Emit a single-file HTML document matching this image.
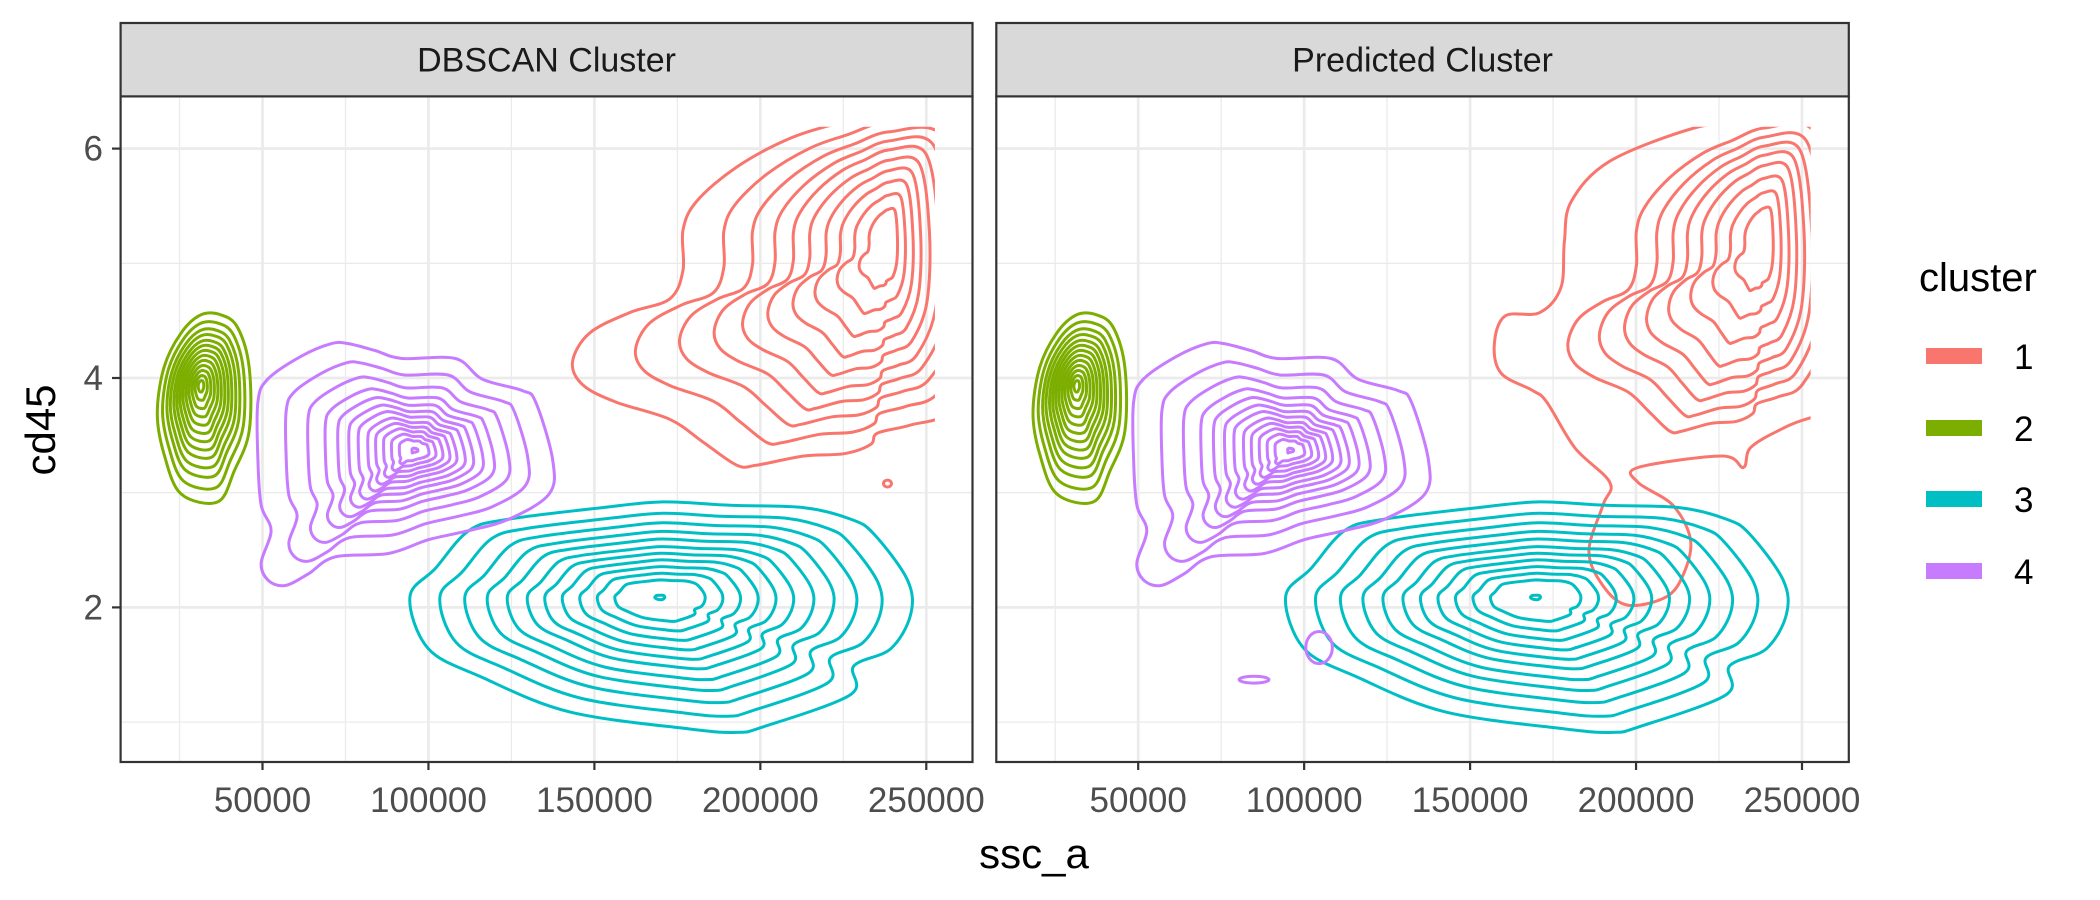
<!DOCTYPE html>
<html><head><meta charset="utf-8"><style>
body{margin:0;background:#fff;}
svg{display:block;font-family:"Liberation Sans",Arial,sans-serif;}
</style></head><body>
<svg id="chart" width="2100" height="900" viewBox="0 0 2100 900">
</svg>
<script>
// ---- data ----
const xTicks = [50000, 100000, 150000, 200000, 250000];
const xTickLabels = ["50000", "100000", "150000", "200000", "250000"];
const yTicks = [2, 4, 6];
const yTickLabels = ["2", "4", "6"];
const xMinor = [25000, 75000, 125000, 175000, 225000];
const yMinor = [1, 3, 5];
const panelTitles = ["DBSCAN Cluster", "Predicted Cluster"];
const clusterNames = ["1", "2", "3", "4"];
const clusterColors = ["#F8766D", "#7CAE00", "#00BFC4", "#C77CFF"];
// outer contours (x in thousands, y = cd45)
const redX = [209.0,192.9,180.8,176.7,176.7,172.7,160.6,148.5,143.4,146.5,156.5,172.7,182.8,192.9,198.9,213.1,225.2,233.2,235.3,245.3,257.4,269.6,271.6,263.5,239.3,223.1];
const redY = [6.09,5.84,5.54,5.29,4.94,4.69,4.57,4.39,4.14,3.94,3.79,3.64,3.44,3.24,3.24,3.32,3.34,3.42,3.52,3.59,3.72,4.29,5.29,6.30,6.35,6.22];
const redCenter = [238.3, 5.22];
const redLevels = [1,0.8,0.66,0.55,0.46,0.38,0.3,0.23,0.16,0.09];
const redLevelsY = [1,0.9,0.82,0.75,0.68,0.6,0.52,0.43,0.33,0.22];
const greenX = [31.4,25.4,20.3,18.3,20.3,25.4,36.5,41.5,46.0,46.0,42.5,37.5];
const greenY = [4.55,4.39,4.09,3.69,3.34,2.99,2.92,3.19,3.54,4.09,4.44,4.55];
const greenCenter = [31.4, 3.94];
const greenLevels = [1,0.88,0.78,0.7,0.62,0.55,0.48,0.41,0.34,0.27,0.2,0.13,0.06];
const tealX = [94.4,100,116.2,142.4,178.7,192.9,201,227.2,228.2,239.3,245.3,244.3,234.2,227.2,213,190.9,170.7,152.5,124.3,112.2,102.1];
const tealY = [2.09,1.64,1.39,1.09,0.94,0.91,0.96,1.24,1.49,1.64,1.94,2.24,2.64,2.77,2.87,2.89,2.92,2.87,2.77,2.67,2.34];
const tealCenter = [169.7, 2.09];
const tealLevels = [1,0.88,0.78,0.69,0.61,0.53,0.46,0.39,0.32,0.25,0.18,0.02];
const purpleX = [70.8,61.7,51.6,48.6,48.6,49.6,52.6,49.6,51.6,56.7,63.7,71.8,87.9,100.0,112.2,124.3,136.4,137.4,132.3,128.3,116.2,108.1,92.0,83.9,75.8];
const purpleY = [4.30,4.19,3.99,3.79,3.29,2.89,2.67,2.39,2.24,2.19,2.29,2.44,2.47,2.59,2.67,2.77,2.99,3.29,3.79,3.89,3.99,4.17,4.17,4.24,4.30];
const purpleCenter = [96.0, 3.37];
const purpleLevels = [1,0.82,0.68,0.57,0.49,0.42,0.36,0.3,0.25,0.2,0.15,0.1,0.02];
const red2X = [217.5,192.1,180.5,178.4,177.4,171.0,160.5,157.3,159.4,168.9,173.1,181.6,192.1,190.0,185.8,190.0,197.4,209.0,214.3,216.4,211.1,200.6,200.6,225.9,232.3,234.4,242.8,252.3,272.4,272.4,249.2,232.3];
const red2Y = [6.18,5.89,5.54,5.19,4.79,4.57,4.54,4.29,4.04,3.89,3.79,3.39,3.09,2.89,2.49,2.19,2.02,2.09,2.29,2.59,2.89,3.09,3.22,3.32,3.22,3.39,3.54,3.65,3.79,6.30,6.30,6.22];
const red2Levels = [0.62,0.52,0.44,0.37,0.3,0.23,0.16,0.09];
const red2LevelsY = [0.85,0.78,0.71,0.64,0.56,0.46,0.35,0.23];
const blobsPanel2 = [[104.5,1.65,4,0.14],[84.9,1.37,4.5,0.03]];
const redBlob = [238.3, 3.08, 1.2, 0.03];

// ---- layout ----
const panels = [{x0:120.6,x1:972.5},{x0:996.3,x1:1848.8}];
const plotTop = 96.4, plotBottom = 762, stripTop = 23;
const xPerK = 165.95/50, x50 = [262.5, 1138.2];
const yPerU = 114.7, y2 = 607.4;
const NS = "http://www.w3.org/2000/svg";
const svg = document.getElementById('chart');
function el(tag, attrs, parent){const e=document.createElementNS(NS,tag);for(const k in attrs)e.setAttribute(k,attrs[k]);(parent||svg).appendChild(e);return e;}
function sx(p,k){return x50[p]+(k-50)*xPerK;}
function sy(v){return y2-(v-2)*yPerU;}
function smoothClosed(P){
  const n=P.length;let d='M'+P[0][0].toFixed(1)+','+P[0][1].toFixed(1);
  for(let i=0;i<n;i++){
    const p0=P[(i-1+n)%n],p1=P[i],p2=P[(i+1)%n],p3=P[(i+2)%n];
    const c1=[p1[0]+(p2[0]-p0[0])/6,p1[1]+(p2[1]-p0[1])/6];
    const c2=[p2[0]-(p3[0]-p1[0])/6,p2[1]-(p3[1]-p1[1])/6];
    d+='C'+c1[0].toFixed(1)+','+c1[1].toFixed(1)+' '+c2[0].toFixed(1)+','+c2[1].toFixed(1)+' '+p2[0].toFixed(1)+','+p2[1].toFixed(1);
  }
  return d+'Z';
}

const defs = el('defs',{});
panels.forEach((P,p)=>{
  const cp = el('clipPath',{id:'clip'+p},defs);
  el('rect',{x:P.x0,y:plotTop,width:P.x1-P.x0,height:plotBottom-plotTop},cp);
  const cr = el('clipPath',{id:'redclip'+p},defs);
  el('rect',{x:P.x0,y:sy(6.19),width:sx(p,252.6)-P.x0,height:plotBottom-sy(6.19)},cr);
});

panels.forEach((P,p)=>{
  const g = el('g',{});
  
  
  el('rect',{x:P.x0,y:plotTop,width:P.x1-P.x0,height:plotBottom-plotTop,fill:'#fff'},g);
  xMinor.forEach(v=>{const l=el('line',{x1:sx(p,v/1000),x2:sx(p,v/1000),y1:plotTop,y2:plotBottom,stroke:'#EBEBEB','stroke-width':1.3},g);
    });
  yMinor.forEach(v=>{const l=el('line',{x1:P.x0,x2:P.x1,y1:sy(v),y2:sy(v),stroke:'#EBEBEB','stroke-width':1.3},g);
    });
  xTicks.forEach(v=>{const l=el('line',{x1:sx(p,v/1000),x2:sx(p,v/1000),y1:plotTop,y2:plotBottom,stroke:'#EBEBEB','stroke-width':2.7},g);
    });
  yTicks.forEach(v=>{const l=el('line',{x1:P.x0,x2:P.x1,y1:sy(v),y2:sy(v),stroke:'#EBEBEB','stroke-width':2.7},g);
    });

  const cg = el('g',{'clip-path':'url(#clip'+p+')'},g);
  function rings(X,Y,C,levels,levelsY,color,clipId,name){
    const rg = el('g',clipId?{'clip-path':'url(#'+clipId+')'}:{},cg);
    
    
    levels.forEach((s,k)=>{
      const t = levelsY ? levelsY[k] : s;
      const pts = X.map((x,i)=>[sx(p,C[0]+s*(x-C[0])), sy(C[1]+t*(Y[i]-C[1]))]);
      const pg = el('path',{d:smoothClosed(pts),fill:'none',stroke:color,'stroke-width':3,'stroke-linejoin':'round'},rg);
      
      
    });
  }
  function blob(b,color){
    const e = el('ellipse',{cx:sx(p,b[0]),cy:sy(b[1]),rx:b[2]*xPerK,ry:b[3]*yPerU,fill:'none',stroke:color,'stroke-width':3},cg);
    
    
  }
  if(p===0){
    rings(redX,redY,redCenter,redLevels,redLevelsY,clusterColors[0],'redclip'+p,'cluster-1-contours');
    blob(redBlob,clusterColors[0]);
  } else {
    rings(red2X,red2Y,redCenter,[1],null,clusterColors[0],'redclip'+p,'cluster-1-outer-contour');
    rings(redX,redY,redCenter,red2Levels,red2LevelsY,clusterColors[0],'redclip'+p,'cluster-1-contours');
  }
  rings(greenX,greenY,greenCenter,greenLevels,null,clusterColors[1],null,'cluster-2-contours');
  rings(tealX,tealY,tealCenter,tealLevels,null,clusterColors[2],null,'cluster-3-contours');
  rings(purpleX,purpleY,purpleCenter,purpleLevels,null,clusterColors[3],null,'cluster-4-contours');
  if(p===1) blobsPanel2.forEach(b=>blob(b,clusterColors[3]));

  el('rect',{x:P.x0,y:plotTop,width:P.x1-P.x0,height:plotBottom-plotTop,fill:'none',stroke:'#333','stroke-width':2.2},g);
  const strip = el('rect',{x:P.x0,y:stripTop,width:P.x1-P.x0,height:plotTop-stripTop,fill:'#D9D9D9',stroke:'#333','stroke-width':2.2},g);
  
  
  const st = el('text',{x:(P.x0+P.x1)/2,y:(stripTop+plotTop)/2+12,'text-anchor':'middle','font-size':34,fill:'#1A1A1A'},g);
  st.textContent = panelTitles[p];
  
  

  xTicks.forEach((v,i)=>{
    const x=sx(p,v/1000);
    el('line',{x1:x,x2:x,y1:plotBottom,y2:plotBottom+8,stroke:'#333','stroke-width':2.2},g);
    const t=el('text',{x:x,y:plotBottom+50,'text-anchor':'middle','font-size':35,fill:'#4D4D4D'},g);
    t.textContent=xTickLabels[i];
    
    
  });
});
yTicks.forEach((v,i)=>{
  const y=sy(v);
  el('line',{x1:112,x2:120.6,y1:y,y2:y,stroke:'#333','stroke-width':2.2});
  const t=el('text',{x:103,y:y+12,'text-anchor':'end','font-size':35,fill:'#4D4D4D'});
  t.textContent=yTickLabels[i];
  
  
});
const xt=el('text',{x:1034,y:868,'text-anchor':'middle','font-size':42,fill:'#000'});
xt.textContent='ssc_a';


const yt=el('text',{x:0,y:0,'text-anchor':'middle','font-size':42,fill:'#000',transform:'translate(55,430) rotate(-90)'});
yt.textContent='cd45';



const lg = el('g',{});


const lt=el('text',{x:1919,y:291,'font-size':40,fill:'#000'},lg);
lt.textContent='cluster';


const keyY=[356,428,499,571];
clusterNames.forEach((n,i)=>{
  const r=el('rect',{x:1926,y:keyY[i]-8,width:56,height:16,fill:clusterColors[i]},lg);
  
  
  const t=el('text',{x:2014,y:keyY[i]+13,'font-size':35,fill:'#000'},lg);
  t.textContent=n;
  
  
});
</script>
</body></html>
